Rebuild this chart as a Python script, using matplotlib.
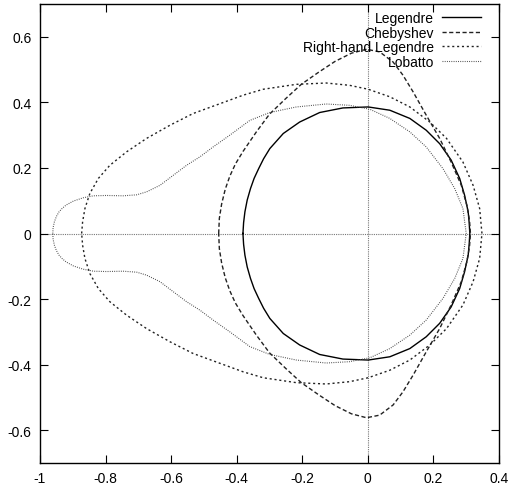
import matplotlib
matplotlib.use('Agg')
import matplotlib.pyplot as plt
import numpy as np

plt.rcParams['font.family'] = ['Liberation Sans', 'DejaVu Sans']

# upper halves, curves are symmetric about y = 0
leg_x = [-0.381, -0.379, -0.375, -0.368, -0.358, -0.347, -0.333, -0.318, -0.299, -0.258,
         -0.208, -0.147, -0.076, 0.001, 0.067, 0.128, 0.178, 0.219, 0.254, 0.280,
         0.295, 0.306, 0.309, 0.311]
leg_y = [0.000, 0.033, 0.066, 0.102, 0.137, 0.168, 0.198, 0.228, 0.259, 0.305,
         0.340, 0.369, 0.383, 0.386, 0.376, 0.351, 0.315, 0.274, 0.224, 0.168,
         0.117, 0.066, 0.033, 0.000]

cheb_x = [-0.455, -0.453, -0.446, -0.435, -0.421, -0.404, -0.381, -0.340, -0.300, -0.250,
          -0.203, -0.150, -0.100, -0.050, -0.004, 0.036, 0.077, 0.107, 0.138, 0.178,
          0.219, 0.254, 0.285, 0.302, 0.310, 0.313]
cheb_y = [0.000, 0.046, 0.090, 0.135, 0.175, 0.212, 0.250, 0.310, 0.364, 0.412,
          0.455, 0.492, 0.525, 0.550, 0.562, 0.554, 0.523, 0.483, 0.432, 0.361,
          0.290, 0.218, 0.147, 0.086, 0.040, 0.000]

rh_x = [-0.873, -0.870, -0.863, -0.848, -0.822, -0.787, -0.736, -0.675, -0.604, -0.533,
        -0.451, -0.380, -0.319, -0.218, -0.127, -0.056, 0.001, 0.067, 0.128, 0.189,
        0.240, 0.290, 0.321, 0.341, 0.348]
rh_y = [0.000, 0.036, 0.076, 0.122, 0.168, 0.208, 0.249, 0.290, 0.330, 0.366,
        0.396, 0.422, 0.440, 0.455, 0.459, 0.452, 0.440, 0.417, 0.386, 0.340,
        0.290, 0.218, 0.147, 0.076, 0.000]

lob_x = [-0.961, -0.960, -0.956, -0.950, -0.942, -0.932, -0.920, -0.898, -0.868, -0.837,
         -0.797, -0.746, -0.705, -0.675, -0.634, -0.593, -0.553, -0.512, -0.472, -0.421,
         -0.360, -0.299, -0.218, -0.127, -0.056, 0.006, 0.067, 0.128, 0.178, 0.229,
         0.265, 0.290, 0.300]
lob_y = [0.000, 0.018, 0.036, 0.052, 0.066, 0.077, 0.087, 0.099, 0.109, 0.115,
         0.116, 0.115, 0.118, 0.127, 0.147, 0.178, 0.208, 0.234, 0.264, 0.300,
         0.345, 0.369, 0.386, 0.395, 0.391, 0.379, 0.351, 0.310, 0.264, 0.198,
         0.137, 0.076, 0.000]


def closed(xs, ys):
    xs = np.array(xs)
    ys = np.array(ys)
    return np.concatenate([xs, xs[::-1]]), np.concatenate([ys, -ys[::-1]])


fig = plt.figure(figsize=(5.09, 4.89), dpi=100)
ax = fig.add_axes([40 / 509, 25 / 489, 459 / 509, 459 / 489])
ax.axhline(0, color='#777777', lw=0.8, linestyle=(0, (1, 1)), zorder=1)
ax.axvline(0, color='#777777', lw=0.8, linestyle=(0, (1, 1)), zorder=1)

x, y = closed(leg_x, leg_y)
ax.plot(x, y, color='#000000', lw=1.0, linestyle='solid', label='Legendre')
x, y = closed(cheb_x, cheb_y)
ax.plot(x, y, color='#222222', lw=1.0, linestyle=(0, (3.0, 1.8)), label='Chebyshev')
x, y = closed(rh_x, rh_y)
ax.plot(x, y, color='#222222', lw=1.0, linestyle=(0, (1.5, 2.0)), label='Right-hand Legendre')
x, y = closed(lob_x, lob_y)
ax.plot(x, y, color='#444444', lw=0.8, linestyle=(0, (0.8, 1.2)), label='Lobatto')

ax.set_xlim(-1, 0.4)
ax.set_ylim(-0.7, 0.7)
ax.set_xticks([-1, -0.8, -0.6, -0.4, -0.2, 0, 0.2, 0.4])
ax.set_xticklabels(['-1', '-0.8', '-0.6', '-0.4', '-0.2', '0', '0.2', '0.4'])
ax.set_yticks([-0.6, -0.4, -0.2, 0, 0.2, 0.4, 0.6])
ax.set_yticklabels(['-0.6', '-0.4', '-0.2', '0', '0.2', '0.4', '0.6'])
ax.tick_params(direction='in', length=6, top=True, right=True, labelsize=10, pad=6)
for s in ax.spines.values():
    s.set_linewidth(1.0)

ax.legend(loc='upper right', bbox_to_anchor=(1 - 11 / 459, 1), frameon=False,
          markerfirst=False, fontsize=10, handlelength=2.8, labelspacing=0.05,
          handletextpad=0.6, borderaxespad=0.3, borderpad=0.2)

fig.savefig('out.png', dpi=100)
plt.close(fig)
